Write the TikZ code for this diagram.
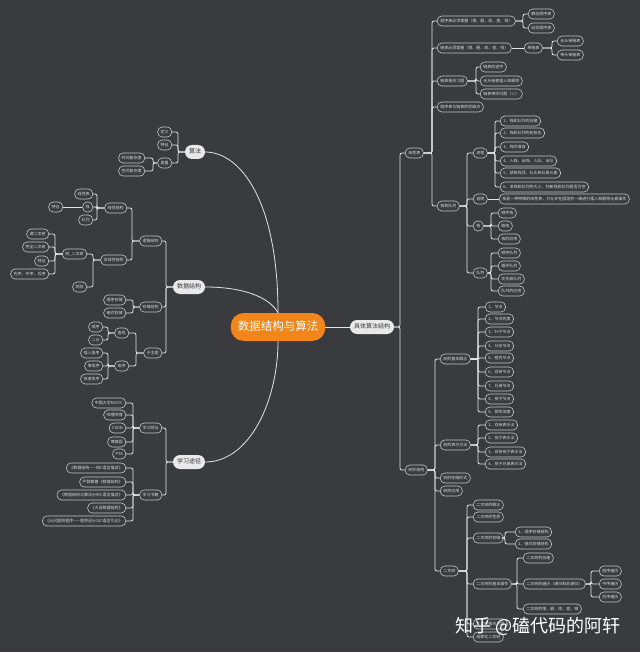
\documentclass[tikz,border=0pt]{standalone}
\usepackage{fontspec}
\setmainfont{Noto Sans CJK SC}
\usetikzlibrary{calc}
\definecolor{bg}{HTML}{3A3B3F}
\definecolor{leafborder}{HTML}{C4C4C4}
\definecolor{leaftext}{HTML}{DCDCDC}
\definecolor{linecol}{HTML}{E4E4E4}
\definecolor{lvlfill}{HTML}{E9E9EA}
\definecolor{lvltext}{HTML}{3A3A3A}
\definecolor{orangecore}{HTML}{F3861A}
\tikzset{
  leaf/.style={draw=leafborder, fill=bg, text=leaftext, line width=0.6pt, rounded corners=4.5pt,
    inner xsep=3pt, inner ysep=0pt, minimum height=10pt, font=\fontsize{4}{5}\selectfont,
    text height=3.3pt, text depth=0.7pt},
  lvl/.style={fill=lvlfill, text=lvltext, rounded corners=7pt, inner xsep=4pt, inner ysep=0pt,
    minimum height=14pt, font=\fontsize{6}{7}\selectfont, text height=4.8pt, text depth=1pt},
  core/.style={fill=orangecore, text=white, rounded corners=13pt, inner xsep=7pt, inner ysep=0pt,
    minimum height=28pt, font=\fontsize{11.5}{13}\selectfont, text height=9pt, text depth=2pt},
  conn/.style={draw=linecol, line width=0.8pt, rounded corners=2pt},
  elR/.style={to path={-| ($(\tikztotarget)+(-#1,0)$) -- (\tikztotarget)}},
  elR/.default=5,
  elL/.style={to path={-| ($(\tikztotarget)+(#1,0)$) -- (\tikztotarget)}},
  elL/.default=4,
  wmark/.style={font=\fontsize{18}{20}\selectfont, inner sep=0pt}
}
\begin{document}
\begin{tikzpicture}[x=1pt,y=-1pt]
\fill[bg] (0,0) rectangle (640,652);
\useasboundingbox (0,0) rectangle (640,652);

% ---------------- centre and main branches
\node[core] (core) at (278,327) {数据结构与算法};
\node[lvl] (sf) at (195,152) {算法};
\node[lvl] (sj) at (189,287) {数据结构};
\node[lvl] (xx) at (189,462) {学习途径};
\node[lvl] (jt) at (372,327) {具体算法结构};
\draw[conn] (sf.east) .. controls (240,152) and (278,200) .. (core.north);
\draw[conn] (sj.east) .. controls (245,287) and (270,298) .. (core.north);
\draw[conn] (xx.east) .. controls (250,462) and (278,400) .. (core.south);
\draw[conn] (core.east) -- (jt.west);

% ---------------- right side
\node[leaf,anchor=west] (xxb) at (405,153) {线性表};
\node[leaf,anchor=west] (sx) at (405,470) {树形结构};
\draw[conn] (jt.east) to[elR=5] (xxb.west);
\draw[conn] (jt.east) to[elR=5] (sx.west);

\foreach \nm/\yy/\tx in {a1/21/{顺序表必须掌握（增、删、改、查、排）}, a2/48/{链表必须掌握（增、删、改、查、排）},
  a3/81/{链表相关习题}, a4/107/{顺序表与链表的优缺点}, a5/206/{栈和队列}}
  {\node[leaf,anchor=west] (\nm) at (437,\yy) {\tx}; \draw[conn] (xxb.east) to[elR=5] (\nm.west);}

\foreach \nm/\yy/\tx in {b1/14/{静态顺序表}, b2/28/{动态顺序表}}
  {\node[leaf,anchor=west] (\nm) at (528,\yy) {\tx}; \draw[conn] (a1.east) to[elR=5] (\nm.west);}

\node[leaf,anchor=west] (c1) at (524,48) {单链表};
\draw[conn] (a2.east) -- (c1.west);
\foreach \nm/\yy/\tx in {c2/41/{无头单链表}, c3/55/{带头单链表}}
  {\node[leaf,anchor=west] (\nm) at (557,\yy) {\tx}; \draw[conn] (c1.east) to[elR=5] (\nm.west);}

\foreach \nm/\yy/\tx in {d1/67/{链表的逆序}, d2/81/{无头链表插入和删除}, d3/94/{链表带环问题（☆）}}
  {\node[leaf,anchor=west] (\nm) at (480,\yy) {\tx}; \draw[conn] (a3.east) to[elR=4] (\nm.west);}

\foreach \nm/\yy/\tx in {e1/153/{流程}, e2/199/{说明}, e3/226/{栈}, e4/273/{队列}}
  {\node[leaf,anchor=west] (\nm) at (473,\yy) {\tx}; \draw[conn] (a5.east) to[elR=6] (\nm.west);}

\foreach \nm/\yy/\tx in {f1/121/{1、栈和队列的创建}, f2/133/{2、栈和队列的初始化}, f3/147/{3、栈的增容},
  f4/161/{4、入栈、出栈、入队、出队}, f5/173/{5、获取栈顶、队头和队尾元素}, f6/187/{6、求栈和队列的大小、判断栈和队列是否为空}}
  {\node[leaf,anchor=west] (\nm) at (500,\yy) {\tx}; \draw[conn] (e1.east) to[elR=5] (\nm.west);}

\node[leaf,anchor=west] (g1) at (499,199) {栈是一种特殊的线性表，只允许在固定的一端进行插入和删除元素操作};
\draw[conn] (e2.east) -- (g1.west);

\foreach \nm/\yy/\tx in {h1/213/{顺序栈}, h2/226/{链栈}, h3/239/{栈的应用}}
  {\node[leaf,anchor=west] (\nm) at (498,\yy) {\tx}; \draw[conn] (e3.east) to[elR=7] (\nm.west);}

\foreach \nm/\yy/\tx in {i1/253/{顺序队列}, i2/266/{循环队列}, i3/279/{优先级队列}, i4/291/{队列的应用}}
  {\node[leaf,anchor=west] (\nm) at (498,\yy) {\tx}; \draw[conn] (e4.east) to[elR=7] (\nm.west);}

\foreach \nm/\yy/\tx in {j1/359/{树的基本概念}, j2/445/{树的表示方法}, j3/478/{树的存储形式}, j4/491/{树的应用}, j5/571/{二叉树}}
  {\node[leaf,anchor=west] (\nm) at (440,\yy) {\tx}; \draw[conn] (sx.east) to[elR=5] (\nm.west);}

\foreach \nm/\yy/\tx in {k1/307/{1、节点}, k2/319/{2、节点的度}, k3/332/{3、叶子节点}, k4/346/{4、分支节点},
  k5/358/{5、祖先节点}, k6/372/{6、双亲节点}, k7/386/{7、兄弟节点}, k8/399/{8、孩子节点}, k9/412/{9、树的深度}}
  {\node[leaf,anchor=west] (\nm) at (485,\yy) {\tx}; \draw[conn] (j1.east) to[elR=7] (\nm.west);}

\foreach \nm/\yy/\tx in {l1/425/{1、双亲表示法}, l2/438/{2、孩子表示法}, l3/452/{3、双亲孩子表示法}, l4/464/{4、孩子兄弟表示法}}
  {\node[leaf,anchor=west] (\nm) at (485,\yy) {\tx}; \draw[conn] (j2.east) to[elR=7] (\nm.west);}

\foreach \nm/\yy/\tx in {m1/505/{二叉树的概念}, m2/517/{二叉树的性质}, m3/538/{二叉树的存储}, m4/584/{二叉树的基本操作},
  m5/624/{二叉树相关习题}, m6/637/{线索化二叉树}}
  {\node[leaf,anchor=west] (\nm) at (473,\yy) {\tx}; \draw[conn] (j5.east) to[elR=6] (\nm.west);}

\foreach \nm/\yy/\tx in {n1/532/{1、顺序存储结构}, n2/544/{2、链式存储结构}}
  {\node[leaf,anchor=west] (\nm) at (515,\yy) {\tx}; \draw[conn] (m3.east) to[elR=10] (\nm.west);}

\foreach \nm/\yy/\tx in {o1/558/{二叉树的创建}, o2/584/{二叉树的遍历（递归和非递归）}, o3/609/{二叉树的增、删、改、查、销}}
  {\node[leaf,anchor=west] (\nm) at (523,\yy) {\tx}; \draw[conn] (m4.east) to[elR=6] (\nm.west);}

\foreach \nm/\yy/\tx in {p1/571/{前序遍历}, p2/584/{中序遍历}, p3/597/{后序遍历}}
  {\node[leaf,anchor=west] (\nm) at (599,\yy) {\tx}; \draw[conn] (o2.east) to[elR=8] (\nm.west);}

% ---------------- left side
\foreach \nm/\yy/\tx in {q1/132/{定义}, q2/145/{特征}, q3/163/{度量}}
  {\node[leaf,anchor=east] (\nm) at (172,\yy) {\tx}; \draw[conn] (sf.west) to[elL=6] (\nm.east);}

\foreach \nm/\yy/\tx in {r1/158/{时间复杂度}, r2/171/{空间复杂度}}
  {\node[leaf,anchor=east] (\nm) at (145,\yy) {\tx}; \draw[conn] (q3.west) to[elL=8] (\nm.east);}

\foreach \nm/\yy/\tx in {s1/241/{逻辑结构}, s2/307/{存储结构}, s3/353/{子主题}}
  {\node[leaf,anchor=east] (\nm) at (162,\yy) {\tx}; \draw[conn] (sj.west) to[elL=4] (\nm.east);}

\foreach \nm/\yy/\tx in {t1/208/{线性结构}, t2/260/{非线性结构}}
  {\node[leaf,anchor=east] (\nm) at (127,\yy) {\tx}; \draw[conn] (s1.west) to[elL=5] (\nm.east);}

\foreach \nm/\yy/\tx in {u1/194/{线性表}, u2/207/{栈}, u3/220/{队列}}
  {\node[leaf,anchor=east] (\nm) at (93,\yy) {\tx}; \draw[conn] (t1.west) to[elL=4] (\nm.east);}

\node[leaf,anchor=east] (v1) at (63,207) {特征};
\draw[conn] (u2.west) -- (v1.east);

\foreach \nm/\yy/\tx in {w1/254/{树\_二叉树}, w2/287/{网状}}
  {\node[leaf,anchor=east] (\nm) at (87,\yy) {\tx}; \draw[conn] (t2.west) to[elL=6] (\nm.east);}

\foreach \nm/\yy/\tx in {x1/234/{满二叉树}, x2/247/{完全二叉树}, x3/261/{特征}, x4/274/{先序、中序、后序}}
  {\node[leaf,anchor=east] (\nm) at (49,\yy) {\tx}; \draw[conn] (w1.west) to[elL=6] (\nm.east);}

\foreach \nm/\yy/\tx in {y1/300/{顺序存储}, y2/313/{链式存储}}
  {\node[leaf,anchor=east] (\nm) at (126,\yy) {\tx}; \draw[conn] (s2.west) to[elL=7] (\nm.east);}

\foreach \nm/\yy/\tx in {z1/333/{查找}, z2/366/{排序}}
  {\node[leaf,anchor=east] (\nm) at (129,\yy) {\tx}; \draw[conn] (s3.west) to[elL=7] (\nm.east);}

\foreach \nm/\yy/\tx in {aa1/327/{顺序}, aa2/340/{二分}}
  {\node[leaf,anchor=east] (\nm) at (103,\yy) {\tx}; \draw[conn] (z1.west) to[elL=5] (\nm.east);}

\foreach \nm/\yy/\tx in {bb1/353/{插入排序}, bb2/366/{堆排序}, bb3/379/{快速排序}}
  {\node[leaf,anchor=east] (\nm) at (103,\yy) {\tx}; \draw[conn] (z2.west) to[elL=5] (\nm.east);}

\foreach \nm/\yy/\tx in {cc1/428/{学习网址}, cc2/495/{学习书籍}}
  {\node[leaf,anchor=east] (\nm) at (162,\yy) {\tx}; \draw[conn] (xx.west) to[elL=4] (\nm.east);}

\foreach \nm/\yy/\tx in {dd1/403/{中国大学MOOC}, dd2/415/{哔哩哔哩}, dd3/428/{CSDN}, dd4/442/{博客园}, dd5/454/{PTA}}
  {\node[leaf,anchor=east] (\nm) at (126,\yy) {\tx}; \draw[conn] (cc1.west) to[elL=7] (\nm.east);}

\foreach \nm/\yy/\tx in {ee1/468/{《数据结构——用C语言描述》}, ee2/482/{严蔚敏著《数据结构》},
  ee3/495/{《数据结构与算法分析C语言描述》}, ee4/508/{《大话数据结构》}, ee5/521/{《从问题到程序——程序设计与C语言引论》}}
  {\node[leaf,anchor=east] (\nm) at (126,\yy) {\tx}; \draw[conn] (cc2.west) to[elL=7] (\nm.east);}

% ---------------- watermark
\node[wmark, text=white] (wm) at (538,626) {知乎 @磕代码的阿轩};
\end{tikzpicture}
\end{document}
